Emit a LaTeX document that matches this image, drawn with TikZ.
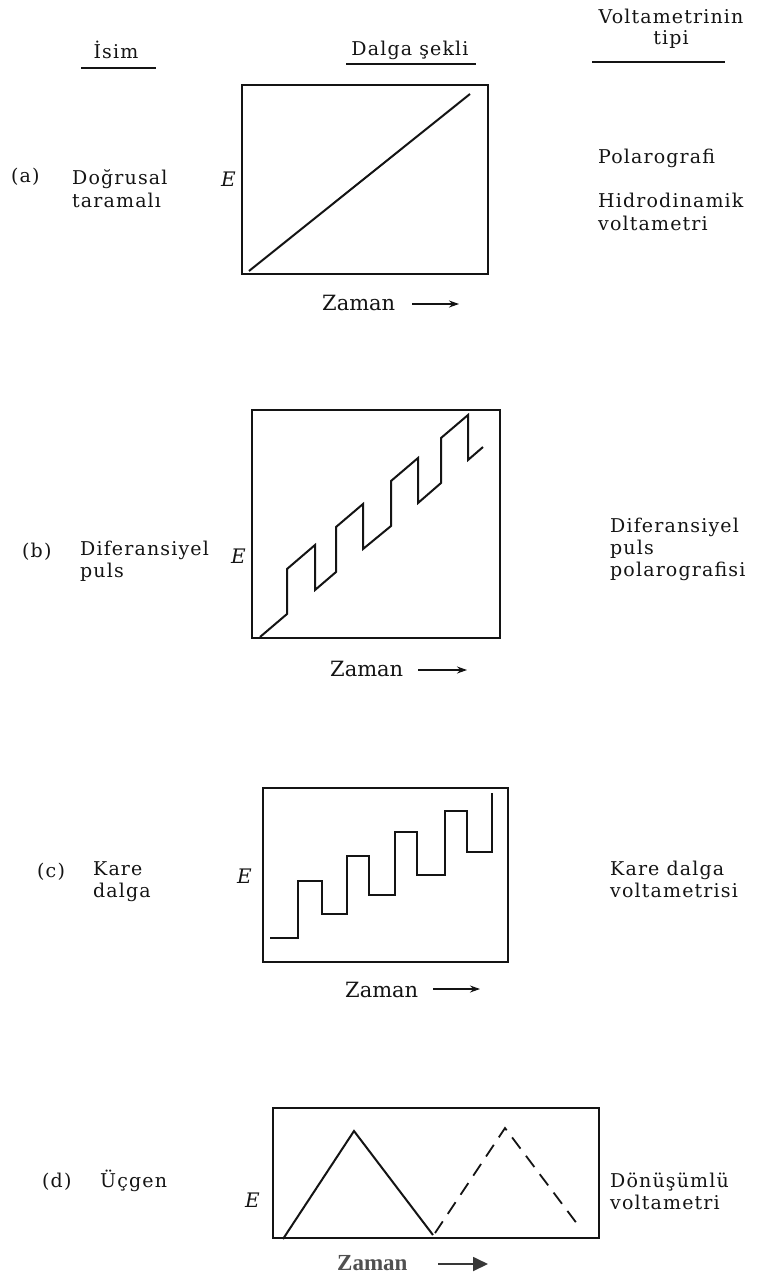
\documentclass[tikz,border=0pt]{standalone}
\usepackage{fontspec}
\setmainfont{DejaVu Serif}[LetterSpace=6]
\newfontfamily\zfont{DejaVu Serif}
\newfontfamily\zbfont{Liberation Serif Bold}
\usetikzlibrary{arrows.meta}
\definecolor{ink}{HTML}{141414}
\definecolor{zgray}{HTML}{505050}
\tikzset{
  lbl/.style={anchor=base west, inner sep=0pt, text=ink, font=\fontsize{19}{23}\selectfont},
  hdr/.style={lbl, anchor=base},
  elbl/.style={lbl, font=\fontsize{20}{24}\selectfont\itshape},
  zlbl/.style={anchor=base west, inner sep=0pt, text=ink, font=\zfont\fontsize{21}{25}\selectfont},
  frame/.style={draw=ink, line width=1.6pt},
  wave/.style={draw=ink, line width=2pt, line join=miter},
  uline/.style={draw=ink, line width=1.4pt},
  tarrow/.style={draw=ink, line width=1.1pt, -{Stealth[length=10pt,width=7pt]}},
}
\begin{document}
\begin{tikzpicture}[x=1pt,y=-1pt]
\useasboundingbox (0,0) rectangle (759,1280);
\fill[white] (0,0) rectangle (759,1280);

% header
\node[hdr] (h1) at (116,58) {İsim};
\draw[uline] (81,68) -- (156,68);
\node[hdr] (h2) at (410,55) {Dalga şekli};
\draw[uline] (346,64) -- (476,64);
\node[hdr] (h3) at (671,23) {Voltametrinin};
\node[hdr] (h3b) at (671,44) {tipi};
\draw[uline] (592,62) -- (725,62);

% panel a
\draw[frame] (242,85) rectangle (488,274);
\draw[wave] (249,271) -- (470,94);
\node[elbl] (ea) at (221,186) {E};
\node[lbl] (la) at (11,182) {(a)};
\node[lbl] (na1) at (72,184) {Doğrusal};
\node[lbl] (na2) at (72,207) {taramalı};
\node[lbl] (ra1) at (598,163) {Polarografi};
\node[lbl] (ra2) at (598,207) {Hidrodinamik};
\node[lbl] (ra3) at (598,230) {voltametri};
\node[zlbl] (za) at (322,310) {Zaman};
\coordinate (za1) at (412,304);
\coordinate (za2) at (459,304);
\draw[tarrow] (za1) -- (za2);

% panel b
\draw[frame] (252,410) rectangle (500,638);
\draw[wave] (260,637) -- (287,614) -- (287,569) -- (315,545) -- (315,590) -- (336,572) -- (336,527) -- (363,504) -- (363,549) -- (391,526) -- (391,481) -- (418,458) -- (418,503) -- (441,483) -- (441,438) -- (468,415) -- (468,460) -- (483,447);
\node[elbl] (eb) at (231,563) {E};
\node[lbl] (lb) at (22,557) {(b)};
\node[lbl] (nb1) at (80,555) {Diferansiyel};
\node[lbl] (nb2) at (80,577) {puls};
\node[lbl] (rb1) at (610,532) {Diferansiyel};
\node[lbl] (rb2) at (610,554) {puls};
\node[lbl] (rb3) at (610,576) {polarografisi};
\node[zlbl] (zb) at (330,676) {Zaman};
\coordinate (zb1) at (418,670);
\coordinate (zb2) at (467,670);
\draw[tarrow] (zb1) -- (zb2);

% panel c
\draw[frame] (263,788) rectangle (508,962);
\draw[wave] (270,938) -- (298,938) -- (298,881) -- (322,881) -- (322,914) -- (347,914) -- (347,856) -- (369,856) -- (369,895) -- (395,895) -- (395,832) -- (417,832) -- (417,875) -- (445,875) -- (445,811) -- (467,811) -- (467,852) -- (492,852) -- (492,793);
\node[elbl] (ec) at (237,883) {E};
\node[lbl] (lc) at (37,877) {(c)};
\node[lbl] (nc1) at (93,875) {Kare};
\node[lbl] (nc2) at (93,897) {dalga};
\node[lbl] (rc1) at (610,875) {Kare dalga};
\node[lbl] (rc2) at (610,897) {voltametrisi};
\node[zlbl] (zc) at (345,997) {Zaman};
\coordinate (zc1) at (433,989);
\coordinate (zc2) at (480,989);
\draw[tarrow] (zc1) -- (zc2);

% panel d
\draw[frame] (273,1108) rectangle (599,1238);
\draw[wave] (283,1239) -- (354,1131) -- (433,1235);
\draw[wave, line width=1.8pt, dash pattern=on 14pt off 9pt] (435,1233) -- (505,1128) -- (578,1225);
\node[elbl] (ed) at (245,1207) {E};
\node[lbl] (ld) at (42,1187) {(d)};
\node[lbl] (nd1) at (100,1187) {Üçgen};
\node[lbl] (rd1) at (610,1187) {Dönüşümlü};
\node[lbl] (rd2) at (610,1209) {voltametri};
\node[anchor=base west, inner sep=0pt, text=zgray, font=\zbfont\fontsize{23}{27}\selectfont] (zd) at (337,1270) {Zaman};
\coordinate (zd1) at (438,1264);
\coordinate (zd2) at (488,1264);
\draw[draw=zgray!70!black, line width=1.8pt, -{Triangle[length=15pt,width=14pt]}] (zd1) -- (zd2);
\end{tikzpicture}
\end{document}
